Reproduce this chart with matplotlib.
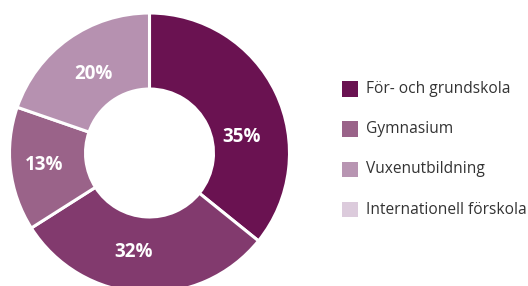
import numpy as np
import matplotlib.pyplot as plt
from matplotlib.patches import Rectangle

# Data (wedge sizes as drawn in the original, labels as printed)
categories = ['För- och grundskola', 'Gymnasium', 'Vuxenutbildning', 'Internationell förskola']
slice_values = [35.8, 30.2, 14.3, 19.7]
slice_labels = ['35%', '32%', '13%', '20%']
slice_colors = ['#6a1251', '#823a6e', '#9a6389', '#b691b0']
legend_colors = ['#6a1251', '#9a6389', '#b895b2', '#dccbdc']

# label placement: extra angle (deg, clockwise) and radius from centre
label_nudge = [16, 6, 0, 0]
label_radius = [0.67, 0.72, 0.76, 0.69]

plt.rcParams['font.family'] = ['Open Sans', 'DejaVu Sans']

W, H = 528, 286
fig = plt.figure(figsize=(W / 100, H / 100), dpi=100)
# donut centre ~ (149.5, 153) px, outer radius 140 px
ax = fig.add_axes([9.5 / W, (H - 153 - 140) / H, 280 / W, 280 / H])

wedges, _ = ax.pie(
    slice_values,
    colors=slice_colors,
    startangle=90,
    counterclock=False,
    radius=1.0,
    wedgeprops=dict(width=0.543, edgecolor='white', linewidth=2.2),
)

for w, lab, nudge, r in zip(wedges, slice_labels, label_nudge, label_radius):
    mid = np.deg2rad((w.theta1 + w.theta2) / 2 - nudge)
    ax.text(r * np.cos(mid), r * np.sin(mid), lab, color='white', fontsize=13.5,
            fontweight='bold', ha='center', va='center')

ax.set_xlim(-1, 1)
ax.set_ylim(-1, 1)
ax.set_aspect('equal')
ax.axis('off')

# legend drawn by hand to match the spacing of the original
sq = 15.5
for i, (lab, c) in enumerate(zip(categories, legend_colors)):
    yc = 89 + i * 40.2
    fig.add_artist(Rectangle((342 / W, (H - yc - sq / 2) / H), sq / W, sq / H,
                             transform=fig.transFigure, facecolor=c, edgecolor='none'))
    fig.text(366 / W, (H - yc) / H, lab, fontsize=11.2, color='#333333',
             ha='left', va='center')

fig.savefig('out.png', dpi=100)
